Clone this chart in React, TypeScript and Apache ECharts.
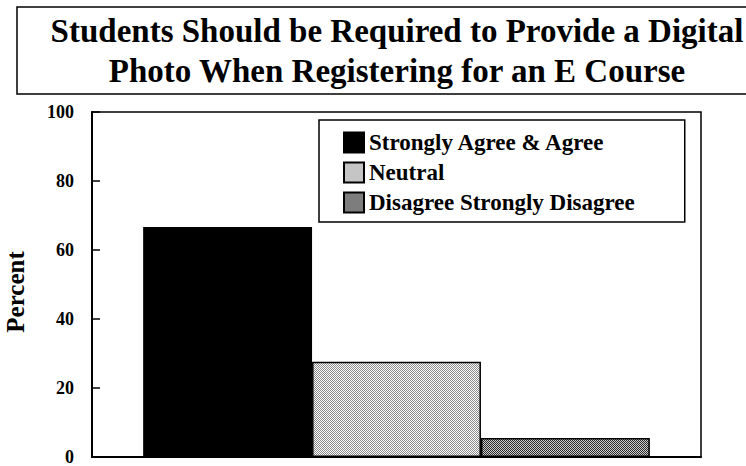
import React, { useEffect, useRef } from "react";
import * as echarts from "echarts";

const categories = [""];
const seriesNames = ["Strongly Agree & Agree", "Neutral", "Disagree Strongly Disagree"];
const agreeValues = [66.7];
const neutralValues = [27.6];
const disagreeValues = [5.5];
const titleLines = ["Students Should be Required to Provide a Digital", "Photo When Registering for an E Course"];
const yAxisTitle = "Percent";

function checker(dark: string, light: string) {
  const c = document.createElement("canvas");
  c.width = 2;
  c.height = 2;
  const ctx = c.getContext("2d")!;
  ctx.fillStyle = light;
  ctx.fillRect(0, 0, 2, 2);
  ctx.fillStyle = dark;
  ctx.fillRect(0, 0, 1, 1);
  ctx.fillRect(1, 1, 1, 1);
  return c;
}

export default function App() {
  const ref = useRef<HTMLDivElement>(null);
  useEffect(() => {
    document.body.style.margin = "0";
    const chart = echarts.init(ref.current!, null, { renderer: "svg" });
    const font = "Liberation Serif";
    const neutralFill = { image: checker("#8a8a8a", "#ffffff"), repeat: "repeat" };
    const disagreeFill = { image: checker("#2a2a2a", "#cfcfcf"), repeat: "repeat" };
    const mk = (name: string, data: number[], color: any) => ({
      name,
      type: "bar",
      data,
      barGap: "0%",
      barCategoryGap: "16.8%",
      itemStyle: { color, borderColor: "#000", borderWidth: 1.5 },
    });
    chart.setOption({
      animation: false,
      backgroundColor: "#fff",
      textStyle: { fontFamily: font },
      title: {
        text: titleLines.join("\n"),
        left: 392,
        top: 6,
        textAlign: "center",
        textStyle: { fontFamily: font, fontWeight: "bold", fontSize: 33, lineHeight: 40, color: "#000" },
      },
      graphic: [
        {
          type: "rect",
          shape: { x: 17, y: 7, width: 760, height: 87 },
          style: { fill: "none", stroke: "#000", lineWidth: 1.5 },
        },
        {
          type: "text",
          x: 15,
          y: 292,
          rotation: Math.PI / 2,
          style: {
            text: yAxisTitle,
            align: "center",
            verticalAlign: "middle",
            fontFamily: font,
            fontWeight: "bold",
            fontSize: 25,
            fill: "#000",
          },
        },
      ],
      legend: {
        orient: "vertical",
        left: 319,
        top: 120,
        padding: [11, 50, 8, 24],
        backgroundColor: "#fff",
        borderColor: "#000",
        borderWidth: 1.5,
        itemWidth: 20,
        itemHeight: 20,
        itemGap: 7,
        icon: "rect",
        textStyle: { fontFamily: font, fontWeight: "bold", fontSize: 23, color: "#000" },
        data: seriesNames,
      },
      grid: {
        left: 92,
        top: 112,
        right: 45,
        bottom: 2,
        show: true,
        borderColor: "#000",
        borderWidth: 1.5,
      },
      xAxis: {
        type: "category",
        data: categories,
        axisLine: { lineStyle: { color: "#000", width: 2 } },
        axisTick: { inside: true, alignWithLabel: true, length: 8, lineStyle: { color: "#000", width: 1.5 } },
        axisLabel: { show: false },
      },
      yAxis: {
        type: "value",
        min: 0,
        max: 100,
        interval: 20,
        axisLine: { show: true, lineStyle: { color: "#000", width: 2 } },
        axisTick: { show: true, inside: true, length: 8, lineStyle: { color: "#000", width: 1.5 } },
        splitLine: { show: false },
        axisLabel: { fontFamily: font, fontWeight: "bold", fontSize: 18, color: "#000", margin: 18 },
      },
      series: [
        mk(seriesNames[0], agreeValues, "#000"),
        mk(seriesNames[1], neutralValues, neutralFill),
        mk(seriesNames[2], disagreeValues, disagreeFill),
      ],
    });
    return () => chart.dispose();
  }, []);
  return <div ref={ref} style={{ width: 746, height: 466 }} />;
}
